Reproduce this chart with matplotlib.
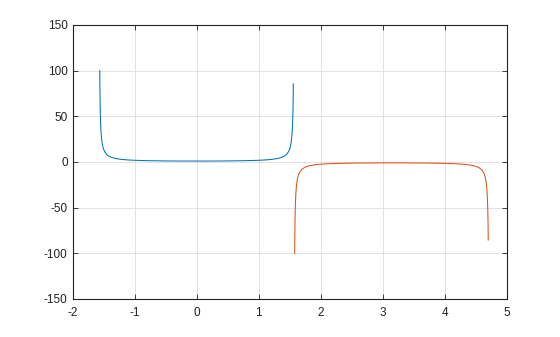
import matplotlib
matplotlib.use('Agg')
import matplotlib.pyplot as plt

# branch 1: (-pi/2, pi/2)
x1 = [-1.5608, -1.558, -1.555, -1.552, -1.55, -1.545, -1.54, -1.53, -1.52, -1.51, -1.50,
      -1.48, -1.45, -1.42, -1.40, -1.35, -1.30, -1.20, -1.10, -1.00, -0.80, -0.50, -0.25, 0.0,
      0.25, 0.50, 0.80, 1.00, 1.10, 1.20, 1.30, 1.35, 1.40, 1.42, 1.45, 1.48, 1.50, 1.51,
      1.52, 1.53, 1.54, 1.545, 1.55, 1.552, 1.555, 1.557, 1.5591]
y1 = [100.0, 78.6, 63.3, 53.4, 48.1, 38.8, 32.5, 24.5, 19.9, 16.6, 14.1,
      11.1, 8.3, 6.6, 5.9, 4.6, 3.7, 2.76, 2.20, 1.85, 1.44, 1.14, 1.03, 1.0,
      1.03, 1.14, 1.44, 1.85, 2.20, 2.76, 3.73, 4.6, 5.9, 6.6, 8.3, 11.1, 14.1, 16.6,
      19.9, 24.5, 32.5, 38.8, 48.1, 53.4, 63.3, 72.5, 85.5]

# branch 2: (pi/2, 3pi/2)
x2 = [1.5808, 1.583, 1.585, 1.588, 1.59, 1.595, 1.60, 1.61, 1.62, 1.63, 1.65, 1.68,
      1.70, 1.75, 1.80, 1.90, 2.00, 2.15, 2.30, 2.60, 2.90, 3.14, 3.40, 3.70, 4.00,
      4.15, 4.30, 4.40, 4.50, 4.55, 4.60, 4.63, 4.65, 4.67, 4.68, 4.685, 4.69, 4.693,
      4.695, 4.698, 4.7007]
y2 = [-100.0, -81.3, -70.4, -58.3, -52.1, -41.9, -34.5, -25.4, -20.5, -17.1, -12.8, -9.5,
      -7.8, -5.6, -4.4, -3.1, -2.4, -1.82, -1.5, -1.17, -1.03, -1.0, -1.04, -1.17, -1.53,
      -1.84, -2.49, -3.21, -4.77, -6.1, -8.9, -12.0, -16.0, -23.6, -30.9, -36.8, -45.5, -51.7,
      -57.2, -68.3, -85.5]

plt.rcParams['font.family'] = ['Liberation Sans', 'DejaVu Sans']
plt.rcParams['font.size'] = 8
plt.rcParams['axes.unicode_minus'] = False

fig = plt.figure(figsize=(5.6, 3.37), dpi=100)
ax = fig.add_axes([0.1295, 0.1128, 0.7755, 0.8131])
ax.plot(x1, y1, color='#0072BD', lw=0.75)
ax.plot(x2, y2, color='#D95319', lw=0.75)

ax.set_xlim(-2, 5)
ax.set_ylim(-150, 150)
ax.set_xticks(range(-2, 6))
ax.set_yticks(range(-150, 151, 50))
ax.grid(True, color='#dddddd', lw=0.6)
ax.set_axisbelow(True)
ax.tick_params(direction='in', top=True, right=True, length=3.5, width=0.6,
               colors='#222222', labelsize=8.5)
ax.tick_params(axis='x', pad=5.5)
for s in ax.spines.values():
    s.set_linewidth(0.8)
    s.set_color('#222222')

fig.savefig('out.png', dpi=100)
